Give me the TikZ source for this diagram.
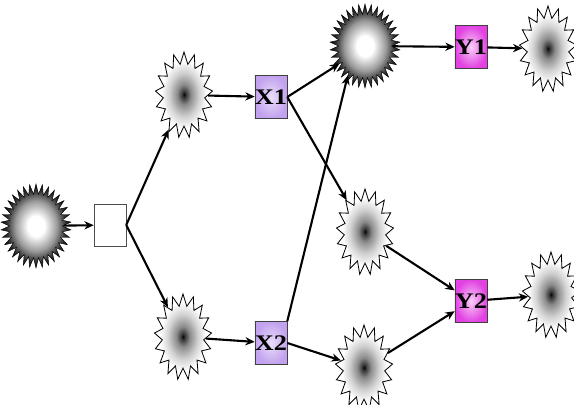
\documentclass[tikz,border=0pt]{standalone}
\usepackage{fontspec}
\setmainfont{Liberation Serif}
\newfontfamily\boxfont[FakeStretch=1.18]{Liberation Serif}
\usetikzlibrary{shapes.geometric, arrows.meta, positioning}

\pgfdeclareradialshading{burst}{\pgfpoint{0bp}{0bp}}{color(0bp)=(white); color(6bp)=(white); color(15bp)=(black!40); color(21bp)=(black!80); color(26bp)=(black); color(50bp)=(black)}
\pgfdeclareradialshading{spark}{\pgfpoint{0bp}{0bp}}{color(0bp)=(black); color(1.5bp)=(black!80); color(6bp)=(black!45); color(13bp)=(black!18); color(20bp)=(white); color(50bp)=(white)}
\definecolor{xlilac}{RGB}{194,162,238}
\definecolor{ypink}{RGB}{226,66,226}

\begin{document}
\begin{tikzpicture}[x=0.03cm, y=-0.03cm,
	bigstar/.style={star, star points=34, star point ratio=1.32, minimum size=2.1cm, inner sep=0pt, yscale=1.2, shading=burst, draw=black, line width=0.4pt},
	smallstar/.style={star, star points=17, star point ratio=1.38, minimum size=1.72cm, inner sep=0pt, yscale=1.5, shading=spark, draw=black, line width=0.7pt},
	xbox/.style={rectangle, minimum width=0.96cm, minimum height=1.29cm, inner sep=0pt, draw=black!75, inner color=xlilac!35, outer color=xlilac, font=\boxfont\fontsize{19}{19}\selectfont\bfseries},
	ybox/.style={rectangle, minimum width=0.96cm, minimum height=1.29cm, inner sep=0pt, draw=black!75, inner color=ypink!25, outer color=ypink, font=\boxfont\fontsize{19}{19}\selectfont\bfseries},
	link/.style={line width=1.8pt, -{Stealth[length=8pt, width=7pt]}}]
			\useasboundingbox (0,0) rectangle (574,405);
			\node (bigleft) [bigstar] at (36,226) {};
			\node (gate) [rectangle, minimum width=0.96cm, minimum height=1.26cm, draw=black!70, fill=white] at (110,225) {};
			\node (upper) [smallstar] at (184,95) {};
			\node (lower) [smallstar] at (183,337) {};
			\node (x1) [xbox] at (271,97) {X1};
			\node (x2) [xbox] at (271,343) {X2};
			\node (bigtop) [bigstar] at (365,46) {};
			\node (mid) [smallstar] at (365,232) {};
			\node (low) [smallstar] at (364,368) {};
			\node (y1) [ybox] at (471,47) {Y1};
			\node (y2) [ybox] at (471,301) {Y2};
			\node (endtop) [smallstar] at (548,49) {};
			\node (endlow) [smallstar] at (551,295) {};

			% Arrows
			\draw [link] (bigleft) -- (gate);
			\draw [link] (gate.east) -- (upper);
			\draw [link] (gate.east) -- (lower);
			\draw [link] (upper) -- (x1);
			\draw [link] (lower) -- (x2);
			\draw [link] (x1.east) -- (bigtop.210);
			\draw [link] (x1.east) -- (mid);
			\draw [link] (x2.north east) -- (bigtop.235);
			\draw [link] (x2.east) -- (low);
			\draw [link] (bigtop) -- (y1);
			\draw [link] (y1) -- (endtop);
			\draw [link] (mid) -- (y2);
			\draw [link] (low) -- (y2);
			\draw [link] (y2) -- (endlow);
\end{tikzpicture}
\end{document}
